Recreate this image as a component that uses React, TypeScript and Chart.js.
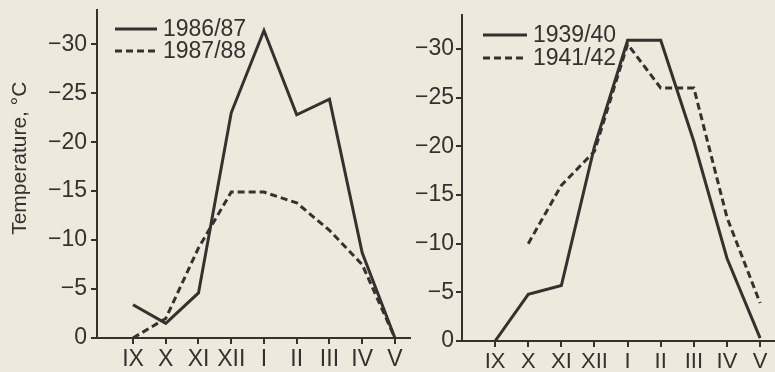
import React, { useEffect, useRef } from "react";
import { Chart, registerables } from "chart.js";

Chart.register(...registerables);

// ---- data ----
const months = ["IX", "X", "XI", "XII", "I", "II", "III", "IV", "V"];
const yTicks = [0, -5, -10, -15, -20, -25, -30];
const s1986_87 = [-3.4, -1.5, -4.6, -23, -31.4, -22.8, -24.4, -8.7, 0];
const s1987_88 = [0, -2, -9.2, -14.9, -14.9, -13.8, -11, -7.5, 0];
const s1939_40 = [0, -4.8, -5.7, -20, -30.9, -30.9, -20.5, -8.5, -0.3];
const s1941_42 = [null, -10, -16, -19.5, -30.5, -26, -26, -12.7, -3.9];
const yTitle = "Temperature, °C";

const INK = "rgb(52,50,47)";
const PAPER = "rgb(238,233,220)";
const FONT = "'Liberation Sans', Arial, sans-serif";
const NONE = "rgba(0,0,0,0)";

function toPoints(vals: (number | null)[]) {
  return vals
    .map((v, i) => ({ x: i, y: v }))
    .filter((p) => p.y !== null);
}

function legendPlugin(x0: number, y0: number, gap: number, len: number, size: number) {
  return {
    id: "inlineLegend",
    afterDatasetsDraw(chart: any) {
      const ctx = chart.ctx;
      chart.data.datasets.forEach((ds: any, i: number) => {
        const y = y0 + i * gap;
        ctx.save();
        ctx.strokeStyle = ds.borderColor;
        ctx.lineWidth = ds.borderWidth;
        ctx.setLineDash(ds.borderDash || []);
        ctx.beginPath();
        ctx.moveTo(x0, y);
        ctx.lineTo(x0 + len, y);
        ctx.stroke();
        ctx.setLineDash([]);
        ctx.fillStyle = INK;
        ctx.font = `${size}px ${FONT}`;
        ctx.textBaseline = "middle";
        ctx.textAlign = "left";
        ctx.fillText(ds.label, x0 + len + 6, y + 1);
        ctx.restore();
      });
    },
  };
}

type PanelOpts = {
  series: { label: string; vals: (number | null)[]; dash: number[] }[];
  xMin: number;
  xMax: number;
  yAxisWidth: number;
  xAxisHeight: number;
  padTop: number;
  padRight: number;
  yFont: number;
  xFont: number;
  yPad: number;
  showTitle: boolean;
  legend: { x: number; y: number; gap: number; len: number; size: number };
};

function makeConfig(o: PanelOpts): any {
  return {
    type: "line",
    data: {
      datasets: o.series.map((s) => ({
        label: s.label,
        data: toPoints(s.vals),
        borderColor: INK,
        borderWidth: 3,
        borderDash: s.dash,
        pointRadius: 0,
        tension: 0,
        fill: false,
      })),
    },
    options: {
      responsive: false,
      animation: false,
      devicePixelRatio: 1,
      layout: { padding: { top: o.padTop, right: o.padRight, left: 0, bottom: 0 } },
      plugins: { legend: { display: false }, tooltip: { enabled: false } },
      scales: {
        x: {
          type: "linear",
          min: o.xMin,
          max: o.xMax,
          afterBuildTicks: (s: any) => {
            s.ticks = months.map((_, i) => ({ value: i }));
          },
          afterFit: (s: any) => {
            s.height = o.xAxisHeight;
            s.paddingLeft = 0;
            s.paddingRight = 0;
          },
          ticks: {
            autoSkip: false,
            maxRotation: 0,
            padding: 2,
            color: INK,
            font: { family: FONT, size: o.xFont },
            callback: (v: number) => months[Math.round(v)],
          },
          grid: {
            display: true,
            drawOnChartArea: false,
            drawTicks: true,
            tickLength: 6,
            color: INK,
            lineWidth: 2,
          },
          border: { display: true, color: INK, width: 2 },
        },
        y: {
          type: "linear",
          min: -33.5,
          max: 0,
          reverse: true,
          afterBuildTicks: (s: any) => {
            s.ticks = yTicks.map((v) => ({ value: v }));
          },
          afterFit: (s: any) => {
            s.width = o.yAxisWidth;
            s.paddingTop = 0;
            s.paddingBottom = 0;
          },
          ticks: {
            autoSkip: false,
            padding: o.yPad,
            color: INK,
            font: { family: FONT, size: o.yFont },
            callback: (v: number) => (v === 0 ? "0" : "\u2212" + Math.abs(v)),
          },
          grid: {
            display: true,
            drawOnChartArea: false,
            drawTicks: true,
            tickLength: 6,
            color: INK,
            lineWidth: 2,
          },
          border: { display: true, color: INK, width: 2 },
          title: {
            display: o.showTitle,
            text: "\u2002\u2002\u2002" + yTitle,
            color: INK,
            font: { family: FONT, size: 21 },
            padding: { top: 8, bottom: 0 },
          },
        },
      },
    },
    plugins: [legendPlugin(o.legend.x, o.legend.y, o.legend.gap, o.legend.len, o.legend.size)],
  };
}

export default function App() {
  const leftRef = useRef<HTMLCanvasElement>(null);
  const rightRef = useRef<HTMLCanvasElement>(null);

  useEffect(() => {
    const left = new Chart(
      leftRef.current!,
      makeConfig({
        series: [
          { label: "1986/87", vals: s1986_87, dash: [] },
          { label: "1987/88", vals: s1987_88, dash: [7, 4] },
        ],
        xMin: -1.1,
        xMax: 8.46,
        yAxisWidth: 97,
        xAxisHeight: 34,
        padTop: 10,
        padRight: 20,
        yFont: 23,
        xFont: 23,
        yPad: 4,
        showTitle: true,
        legend: { x: 115, y: 29, gap: 22, len: 42, size: 23 },
      })
    );
    const right = new Chart(
      rightRef.current!,
      makeConfig({
        series: [
          { label: "1939/40", vals: s1939_40, dash: [] },
          { label: "1941/42", vals: s1941_42, dash: [7, 4] },
        ],
        xMin: -1.0,
        xMax: 8.45,
        yAxisWidth: 82,
        xAxisHeight: 31,
        padTop: 15,
        padRight: 0,
        yFont: 23,
        xFont: 22,
        yPad: 2,
        showTitle: false,
        legend: { x: 103, y: 35, gap: 23, len: 44, size: 23 },
      })
    );
    return () => {
      left.destroy();
      right.destroy();
    };
  }, []);

  return (
    <div
      style={{
        position: "fixed",
        left: 0,
        top: 0,
        width: 775,
        height: 372,
        background: PAPER,
        overflow: "hidden",
      }}
    >
      <canvas
        ref={leftRef}
        width={430}
        height={372}
        style={{ position: "absolute", left: 0, top: 0, width: 430, height: 372 }}
      />
      <canvas
        ref={rightRef}
        width={395}
        height={372}
        style={{ position: "absolute", left: 380, top: 0, width: 395, height: 372 }}
      />
    </div>
  );
}
